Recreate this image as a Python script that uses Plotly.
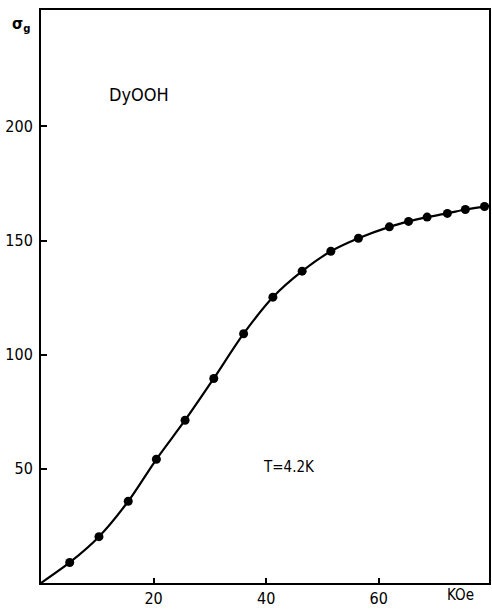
import plotly.graph_objects as go

# Data (field in kOe, sigma_g)
field = [5.1, 10.3, 15.5, 20.5, 25.6, 30.7, 36.0, 41.2, 46.4, 51.5, 56.4, 61.9, 65.3, 68.6, 72.2, 75.4, 78.8]
sigma = [9.0, 20.3, 35.8, 54.2, 71.3, 89.6, 109.2, 125.2, 136.6, 145.3, 151.0, 156.0, 158.4, 160.3, 161.9, 163.6, 164.9]
x_ticks = [20, 40, 60]
y_ticks = [50, 100, 150, 200]

FONT = "Liberation Sans Narrow, DejaVu Sans Condensed, Liberation Sans, sans-serif"

fig = go.Figure()
fig.add_trace(go.Scatter(
    x=[0] + field + [79.6], y=[0] + sigma + [165.2],
    mode="lines", line=dict(color="black", width=2.2, shape="spline", smoothing=0.8),
    hoverinfo="skip", showlegend=False))
fig.add_trace(go.Scatter(
    x=field, y=sigma, mode="markers",
    marker=dict(color="black", size=9), showlegend=False))

fig.update_layout(
    width=492, height=609,
    margin=dict(l=41, r=1, t=10, b=17),
    paper_bgcolor="white", plot_bgcolor="white",
    font=dict(family=FONT, size=16, color="black"),
    xaxis=dict(range=[0, 79.6], tickvals=x_ticks, ticks="inside", ticklen=5, tickwidth=1.5,
               tickcolor="black", showgrid=False, zeroline=False, showline=True,
               linecolor="black", linewidth=2, mirror=True, ticklabelstandoff=0),
    yaxis=dict(range=[0, 251], tickvals=y_ticks, ticks="inside", ticklen=6, tickwidth=1.5,
               tickcolor="black", showgrid=False, zeroline=False, showline=True,
               linecolor="black", linewidth=2, mirror=True, ticklabelstandoff=3),
    annotations=[
        dict(x=74.6, y=-0.002, xref="x", yref="paper", text="KOe", showarrow=False,
             xanchor="center", yanchor="top", font=dict(size=15)),
        dict(x=-0.045, y=0.975, xref="paper", yref="paper", text="<b>σ<sub>g</sub></b>", showarrow=False,
             xanchor="center", yanchor="middle", font=dict(size=16)),
        dict(x=17.5, y=214, xref="x", yref="y", text="DyOOH", showarrow=False,
             xanchor="center", yanchor="middle", font=dict(size=18)),
        dict(x=44.0, y=51, xref="x", yref="y", text="T=4.2K", showarrow=False,
             xanchor="center", yanchor="middle", font=dict(size=15)),
    ],
)

fig.write_html("out.html")
